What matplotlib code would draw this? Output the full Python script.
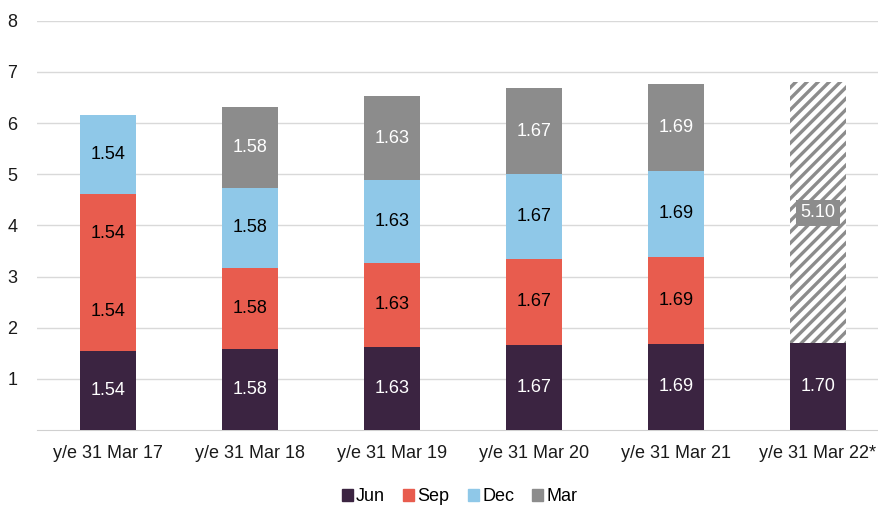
import matplotlib.pyplot as plt
import numpy as np

plt.rcParams['font.family'] = ['Liberation Sans', 'DejaVu Sans']
plt.rcParams['hatch.linewidth'] = 2.4

categories = ["y/e 31 Mar 17", "y/e 31 Mar 18", "y/e 31 Mar 19",
              "y/e 31 Mar 20", "y/e 31 Mar 21", "y/e 31 Mar 22*"]
jun = [1.54, 1.58, 1.63, 1.67, 1.69, 1.70]
sep = [1.54, 1.58, 1.63, 1.67, 1.69, 0]
sep_extra = [1.54, 0, 0, 0, 0, 0]   # second red block on the 2017 bar
dec = [1.54, 1.58, 1.63, 1.67, 1.69, 0]
mar = [0, 1.58, 1.63, 1.67, 1.69, 0]
forecast = [0, 0, 0, 0, 0, 5.10]

col_jun = '#3B2441'
col_sep = '#E85C4E'
col_dec = '#8FC8E8'
col_mar = '#8C8C8C'

fig = plt.figure(figsize=(8.79, 5.07), dpi=100)
ax = fig.add_axes([0.042, 0.152, 0.958, 0.807])

x = np.arange(len(categories))
w = 0.40
fs = 13

series = [
    (jun, col_jun, 'Jun', 'white'),
    (sep, col_sep, 'Sep', 'black'),
    (sep_extra, col_sep, None, 'black'),
    (dec, col_dec, 'Dec', 'black'),
    (mar, col_mar, 'Mar', 'white'),
]

bottom = np.zeros(len(categories))
for vals, col, lab, tcol in series:
    v = np.array(vals)
    ax.bar(x, v, w, bottom=bottom, color=col, linewidth=0, zorder=3)
    for i in range(len(v)):
        if v[i] > 0:
            ax.text(x[i], bottom[i] + v[i] / 2, f"{v[i]:.2f}", ha='center', va='center',
                    color=tcol, fontsize=fs, zorder=5)
    bottom = bottom + v

fv = np.array(forecast)
ax.bar(x, fv, w, bottom=bottom, facecolor='white', edgecolor=col_mar, hatch='///',
       linewidth=0, zorder=3)
for i in range(len(fv)):
    if fv[i] > 0:
        ax.text(x[i], bottom[i] + fv[i] / 2, f"{fv[i]:.2f}", ha='center', va='center',
                color='white', fontsize=fs, zorder=5,
                bbox=dict(boxstyle='square,pad=0.25', facecolor=col_mar, edgecolor='none'))

ax.set_ylim(0, 8)
ax.set_xlim(-0.5, 5.43)
ax.set_yticks(range(1, 9))
ax.set_xticks(x)
ax.set_xticklabels(categories)
ax.tick_params(axis='both', length=0, labelsize=fs, colors='#1a1a1a')
ax.tick_params(axis='y', pad=14)
ax.tick_params(axis='x', pad=11)
ax.yaxis.grid(True, color='#D9D9D9', linewidth=1, zorder=0)
ax.set_axisbelow(True)
for s in ['top', 'right', 'left']:
    ax.spines[s].set_visible(False)
ax.spines['bottom'].set_color('#D0D0D0')

handles = [plt.Rectangle((0, 0), 1, 1, color=c) for c in [col_jun, col_sep, col_dec, col_mar]]
fig.legend(handles, ['Jun', 'Sep', 'Dec', 'Mar'], loc='center', bbox_to_anchor=(0.523, 0.02),
           ncol=4, frameon=False, fontsize=fs, handlelength=0.6, handleheight=0.6,
           handletextpad=0.2, columnspacing=1.0)

fig.savefig('out.png', dpi=100)
